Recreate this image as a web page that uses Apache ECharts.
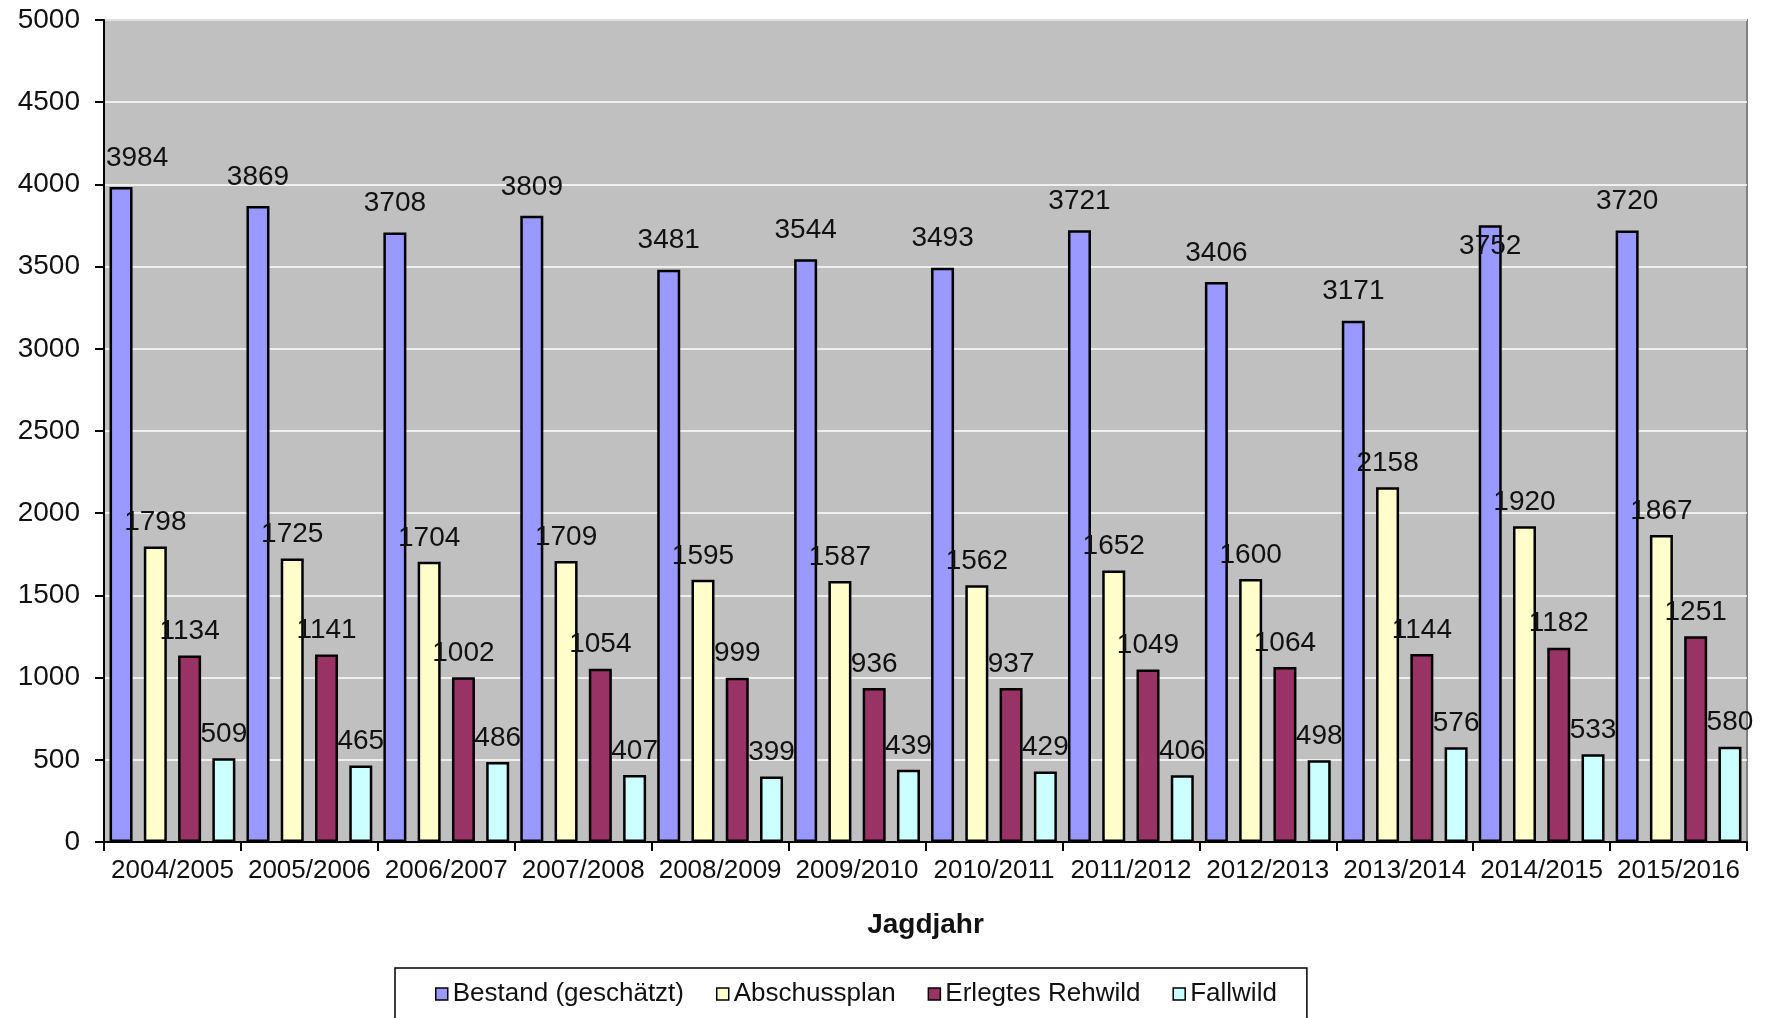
<!DOCTYPE html>
<html>
<head>
<meta charset="utf-8">
<script src="https://cdn.jsdelivr.net/npm/echarts@6/dist/echarts.min.js"></script>
<style>
  html, body { margin: 0; padding: 0; background: #fff; }
  #chart { width: 1765px; height: 1018px; }
</style>
</head>
<body>
<div id="chart"></div>
<script>
// Jagdjahre (hunting years)
const jagdjahre = ['2004/2005', '2005/2006', '2006/2007', '2007/2008', '2008/2009', '2009/2010',
                   '2010/2011', '2011/2012', '2012/2013', '2013/2014', '2014/2015', '2015/2016'];

// Roe deer figures per hunting year
const bestand      = [3984, 3869, 3708, 3809, 3481, 3544, 3493, 3721, 3406, 3171, 3752, 3720];
const abschussplan = [1798, 1725, 1704, 1709, 1595, 1587, 1562, 1652, 1600, 2158, 1920, 1867];
const erlegt       = [1134, 1141, 1002, 1054,  999,  936,  937, 1049, 1064, 1144, 1182, 1251];
const fallwild     = [ 509,  465,  486,  407,  399,  439,  429,  406,  498,  576,  533,  580];

const seriesNames = ['Bestand (geschätzt)', 'Abschussplan', 'Erlegtes Rehwild', 'Fallwild'];
const seriesColors = ['#9999FF', '#FFFFCC', '#993366', '#CCFFFF'];
const seriesData = [bestand, abschussplan, erlegt, fallwild];

const FONT = '"Liberation Sans", Arial, sans-serif';

// A few value labels sit off their default spot (kept inside the plot, or moved onto the bar)
const labelNudges = {
  '0-0': [16, 0],
  '0-10': [0, 50]
};

const chart = echarts.init(document.getElementById('chart'), null, { renderer: 'canvas' });

const series = seriesData.map((values, s) => ({
  name: seriesNames[s],
  type: 'bar',
  data: values.map((v, i) => {
    const nudge = labelNudges[s + '-' + i];
    return nudge ? { value: v, label: { offset: nudge } } : v;
  }),
  barWidth: 23,
  barGap: '49%',
  itemStyle: { color: seriesColors[s], borderColor: '#000', borderWidth: 2.5 },
  label: {
    show: true,
    position: 'top',
    distance: s === 0 ? 15 : 10,
    color: '#111',
    fontFamily: FONT,
    fontSize: 28
  },
  z: 3
}));

chart.setOption({
  backgroundColor: '#ffffff',
  animation: false,
  textStyle: { fontFamily: FONT },
  grid: {
    left: 104, right: 18, top: 20, bottom: 176,
    show: true,
    backgroundColor: '#C0C0C0',
    borderColor: '#808080',
    borderWidth: 2
  },
  legend: {
    left: 395,
    top: 968,
    width: 900,
    padding: [13, 30, 40, 40],
    borderColor: '#000',
    borderWidth: 1.5,
    itemWidth: 12,
    itemHeight: 12,
    itemGap: 32,
    icon: 'rect',
    itemStyle: { borderColor: '#000', borderWidth: 1.5 },
    textStyle: { fontFamily: FONT, fontSize: 26, color: '#111' },
    data: seriesNames
  },
  xAxis: {
    type: 'category',
    data: jagdjahre,
    name: 'Jagdjahr',
    nameLocation: 'middle',
    nameGap: 69,
    nameTextStyle: { fontFamily: FONT, fontSize: 28, fontWeight: 'bold', color: '#111' },
    axisLine: { lineStyle: { color: '#000', width: 2 } },
    axisTick: { show: true, alignWithLabel: false, length: 9, lineStyle: { color: '#000', width: 2 } },
    axisLabel: { fontFamily: FONT, fontSize: 26, color: '#111', margin: 16, interval: 0 },
    splitLine: { show: false }
  },
  yAxis: {
    type: 'value',
    min: 0,
    max: 5000,
    interval: 500,
    axisLine: { show: true, lineStyle: { color: '#000', width: 2 } },
    axisTick: { show: true, length: 9, lineStyle: { color: '#000', width: 2 } },
    axisLabel: {
      fontFamily: FONT, fontSize: 28, color: '#111', margin: 24,
      formatter: (v) => String(v)
    },
    splitLine: { show: true, lineStyle: { color: '#ffffff', width: 1.5 } }
  },
  series: series
});
</script>
</body>
</html>
